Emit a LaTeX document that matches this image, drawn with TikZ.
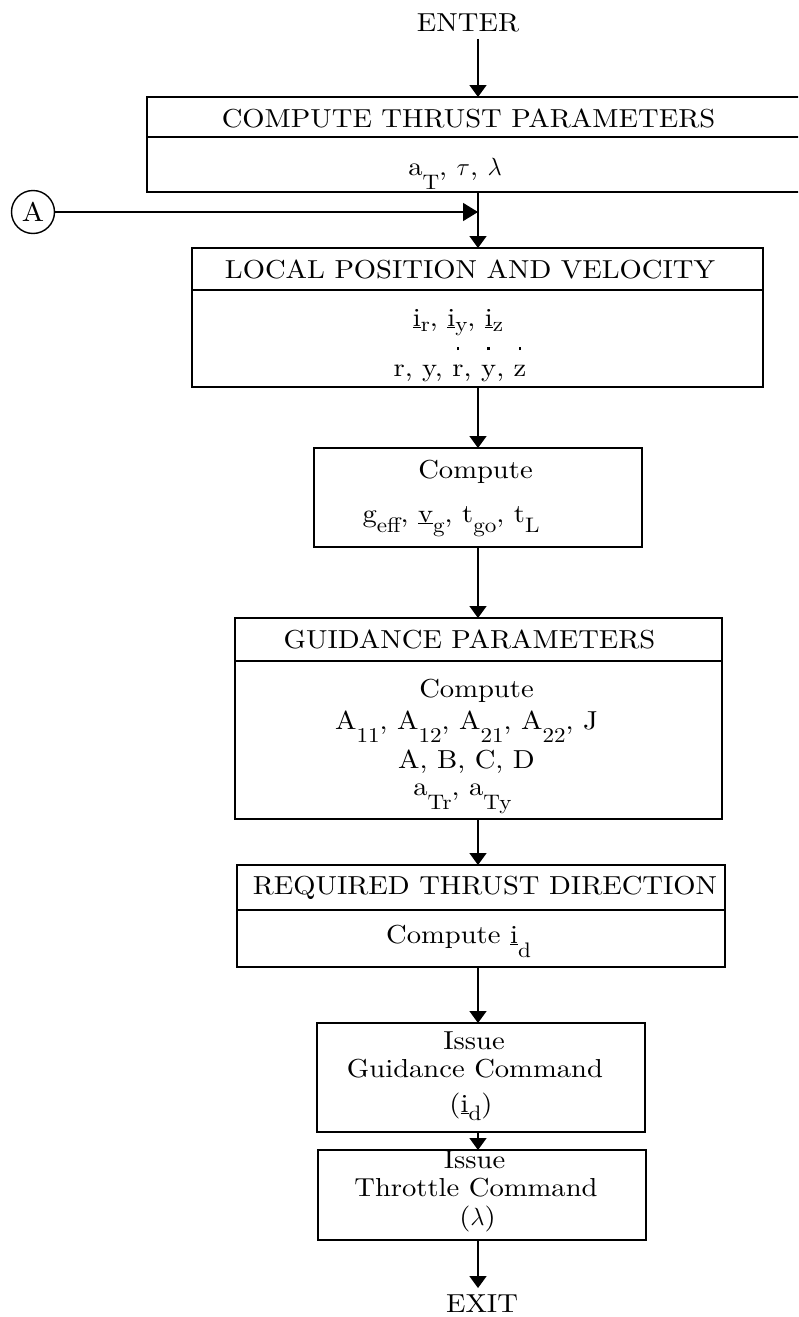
\documentclass[tikz,border=0pt]{standalone}
\usepackage{fontspec}
\setmainfont{lmroman10-regular.otf}[FakeStretch=1.1]
\usetikzlibrary{arrows.meta}
\newcommand\lw[2][12pt]{\raisebox{-#1}{\fontsize{21}{21}\selectfont #2}}
\newcommand\dotover[1]{\ooalign{#1\cr\hidewidth\smash{\raisebox{1.0em}{\rule{2.8pt}{2.8pt}}}\hidewidth\cr}}
\begin{document}
\begin{tikzpicture}[x=1pt,y=-1pt,
  box/.style={draw, line width=1.6pt, inner sep=0pt, outer sep=0pt, anchor=north west},
  divider/.style={line width=1.6pt},
  txt/.style={anchor=base, inner sep=0pt, font=\fontsize{26}{28}\selectfont},
  arr/.style={line width=1.6pt, -{Triangle[width=17pt,length=12pt]}},
  arrA/.style={line width=1.6pt, -{Triangle[width=18pt,length=15pt]}}]
\useasboundingbox (0,0) rectangle (798,1317);
\clip (0,0) rectangle (798,1317);
\coordinate (ax) at (478,0);
% boxes
\node[box, minimum width=703pt, minimum height=95pt] (b1) at (147,97) {};
\node[box, minimum width=571pt, minimum height=139pt] (b2) at (192,248) {};
\node[box, minimum width=328pt, minimum height=99pt] (b3) at (314,448) {};
\node[box, minimum width=487pt, minimum height=201pt] (b4) at (235,618) {};
\node[box, minimum width=488pt, minimum height=102pt] (b5) at (237,865) {};
\node[box, minimum width=328pt, minimum height=109pt] (b6) at (317,1023) {};
\node[box, minimum width=328pt, minimum height=90pt] (b7) at (318,1150) {};
% dividers
\coordinate (d1) at (0,137);
\coordinate (d2) at (0,290);
\coordinate (d4) at (0,661);
\coordinate (d5) at (0,910);
\draw[divider] (b1.west |- d1) -- (b1.east |- d1);
\draw[divider] (b2.west |- d2) -- (b2.east |- d2);
\draw[divider] (b4.west |- d4) -- (b4.east |- d4);
\draw[divider] (b5.west |- d5) -- (b5.east |- d5);
% texts
\node[txt] (enter) at (468,31) {ENTER};
\node[txt] (t1h) at (468.5,127) {COMPUTE THRUST PARAMETERS};
\node[txt] (t1b) at (455,175) {a\lw[14pt]{T}, $\tau$, $\lambda$};
\node[txt] (t2h) at (470,278) {LOCAL POSITION AND VELOCITY};
\node[txt] (t2a) at (458,326) {\underline{i}\lw[5pt]{r}, \underline{i}\lw[5pt]{y}, \underline{i}\lw[5pt]{z}};
\node[txt] (t2b) at (460,376) {r, y, \dotover{r}, \dotover{y}, \dotover{z}};
\node[txt] (t3a) at (475.5,478) {Compute};
\node[txt] (t3b) at (451,522) {g\lw[10pt]{eff}, \underline{v}\lw[10pt]{g}, t\lw[10pt]{go}, t\lw[10pt]{L}};
\node[txt] (t4h) at (469.5,648) {GUIDANCE PARAMETERS};
\node[txt] (t4a) at (476.5,697) {Compute};
\node[txt] (t4b) at (466.5,729) {A\lw[13pt]{11}, A\lw[13pt]{12}, A\lw[13pt]{21}, A\lw[13pt]{22}, J};
\node[txt] (t4c) at (466.5,768) {A, B, C, D};
\node[txt] (t4d) at (462.5,795) {a\lw[14pt]{Tr}, a\lw[14pt]{Ty}};
\node[txt] (t5h) at (485,894) {REQUIRED THRUST DIRECTION};
\node[txt] (t5b) at (458.5,943) {Compute \underline{i}\lw[14pt]{d}};
\node[txt] (t6a) at (474,1049) {Issue};
\node[txt] (t6b) at (475,1077) {Guidance Command};
\node[txt] (t6c) at (471,1112) {(\underline{i}\lw[8pt]{d})};
\node[txt] (t7a) at (474.5,1168) {Issue};
\node[txt] (t7b) at (476,1196) {Throttle Command};
\node[txt] (t7c) at (477.5,1225) {($\lambda$)};
\node[txt] (exit) at (482,1312) {EXIT};
% connector A
\node[circle, draw, line width=1.4pt, minimum size=43pt, inner sep=0pt,
      font=\fontsize{27}{27}\selectfont] (A) at (33,212) {A};
\coordinate (J) at (478,212);
% arrows
\draw[arr, shorten <=7pt] (enter.south -| ax) -- (b1.north -| ax);
\draw[line width=1.6pt] (b1.south -| ax) -- (J);
\draw[arrA] (A.east) -- (J);
\draw[arr] (J) -- (b2.north -| ax);
\draw[arr] (b2.south -| ax) -- (b3.north -| ax);
\draw[arr] (b3.south -| ax) -- (b4.north -| ax);
\draw[arr] (b4.south -| ax) -- (b5.north -| ax);
\draw[arr] (b5.south -| ax) -- (b6.north -| ax);
\draw[arr] (b6.south -| ax) -- (b7.north -| ax);
\draw[arr, shorten >=6pt] (b7.south -| ax) -- (exit.north -| ax);
\end{tikzpicture}
\end{document}
